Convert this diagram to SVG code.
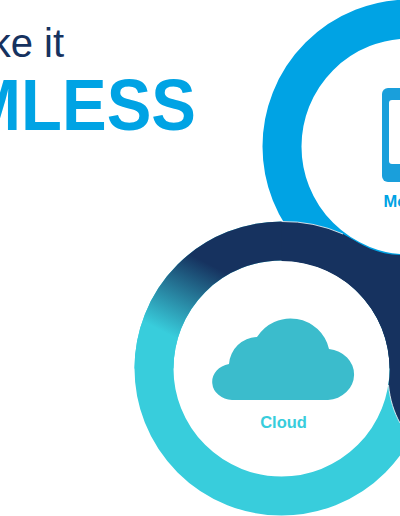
<svg xmlns="http://www.w3.org/2000/svg" width="400" height="516" viewBox="0 0 400 516">
<style>
.sans{font-family:"Liberation Sans",Arial,sans-serif}
.ring{fill:none;stroke-width:39}
.label{font-size:16.500px;font-weight:700}
</style>
<defs>
<linearGradient id="fade" gradientUnits="userSpaceOnUse" x1="160" y1="330" x2="197" y2="258">
<stop offset="0" stop-color="#38cddc"/>
<stop offset="1" stop-color="#16325f"/>
</linearGradient>
</defs>
<rect width="400" height="516" fill="#fff"/>
<g id="title" class="sans">
<text x="64" y="57" font-size="40" fill="#16325f" text-anchor="end">ke it</text>
<text transform="translate(196 130) scale(.93 1)" font-size="72" font-weight="700" fill="#00a3e4" text-anchor="end">MLESS</text>
</g>
<g id="mobile">
<circle class="ring" cx="409.500" cy="146.500" r="127.500" stroke="#00a3e4"/>
<rect x="382" y="88" width="60" height="94" rx="6" fill="#1a9fdb"/>
<rect x="389" y="100" width="46" height="64" rx="3" fill="#fff"/>
<text class="sans label" x="383.500" y="207" fill="#00a3e4">Mo</text>
</g>
<g id="cloud">
<circle class="ring" cx="281.500" cy="368.500" r="127.500" stroke="#38cddc"/>
<path class="ring" d="M154 368.500A127.500 127.500 0 0 1 409 368.500" stroke="url(#fade)"/>
<path d="M232 400H328A28 25.600 0 0 0 329 349A39.500 39.500 0 0 0 257 337A29 29 0 0 0 229 364A21 18.200 0 0 0 232 400Z" fill="#3bbccc"/>
<text class="sans label" x="283.500" y="428" fill="#38cddc" text-anchor="middle">Cloud</text>
</g>
<g id="connectors">
<path d="M281.500 221.500A147 147 0 0 1 343 234C362 245 378 255 400 255V423C394 412 390 400 388.500 385A108 108 0 0 0 281.500 261Z" fill="#16325f"/>
<path d="M281.500 221.500A147 147 0 0 1 343 234" fill="none" stroke="#fff" stroke-width="0.800"/>
<path d="M388.500 385C390 400 394 412 400 423" fill="none" stroke="#fff" stroke-width="0.800"/>
</g>
</svg>
